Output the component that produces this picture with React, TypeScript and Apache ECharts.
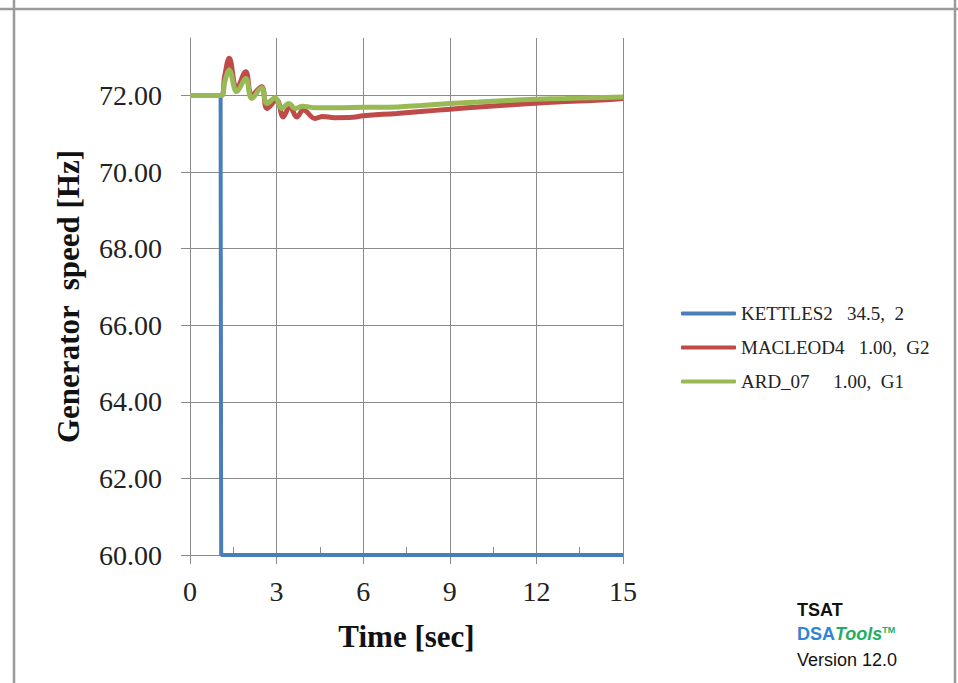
import React, { useEffect, useRef } from "react";
import * as echarts from "echarts";

const seriesNames = ["KETTLES2   34.5,  2", "MACLEOD4   1.00,  G2", "ARD_07     1.00,  G1"];
const seriesColors = ["#4a7ebb", "#be4b48", "#98b954"];

const kettlesTime = [0, 1.06, 1.08, 15];
const kettlesSpeed = [72, 72, 60, 60];

const macleodTime = [0, 1.08, 1.2, 1.36, 1.62, 1.93, 2.14, 2.48, 2.67, 3.0, 3.23, 3.46, 3.7, 3.93, 4.33, 4.6, 5.0, 5.65, 6.0, 7.16, 8.0, 9.0, 10.0, 11.0, 12.07, 13.0, 14.43, 15];
const macleodSpeed = [72, 72, 72.5, 72.97, 72.18, 72.62, 72.01, 72.23, 71.66, 71.88, 71.44, 71.71, 71.44, 71.62, 71.4, 71.45, 71.42, 71.43, 71.47, 71.53, 71.58, 71.64, 71.7, 71.75, 71.8, 71.84, 71.89, 71.92];

const ardTime = [0, 1.08, 1.2, 1.36, 1.62, 1.93, 2.14, 2.48, 2.67, 2.95, 3.18, 3.42, 3.65, 3.9, 4.3, 5, 6, 7.2, 8, 9, 10, 11, 12, 13, 14, 15];
const ardSpeed = [72, 72, 72.35, 72.66, 72.1, 72.44, 71.92, 72.2, 71.79, 71.94, 71.66, 71.79, 71.66, 71.72, 71.68, 71.68, 71.69, 71.7, 71.74, 71.79, 71.83, 71.87, 71.9, 71.92, 71.94, 71.96];

const xTicks = { min: 0, max: 15, interval: 3 };
const yTicks = { min: 60, max: 73.5, interval: 2 };

const pair = (t: number[], v: number[]) => t.map((x, i) => [x, v[i]]);

const GRID = "#8a8a8a";
const SERIF = "'Liberation Serif', 'Times New Roman', serif";
const SANS = "'Liberation Sans', Arial, sans-serif";

export default function App() {
  const ref = useRef<HTMLDivElement>(null);
  useEffect(() => {
    if (!ref.current) return;
    const chart = echarts.init(ref.current, undefined, { renderer: "svg" });
    chart.setOption({
      animation: false,
      backgroundColor: "#ffffff",
      grid: { left: 190, right: 335, top: 38, bottom: 128, containLabel: false },
      legend: {
        orient: "vertical",
        left: 676,
        top: 299,
        icon: "roundRect",
        itemWidth: 55,
        itemHeight: 4,
        itemGap: 15,
        textStyle: { fontFamily: SERIF, fontSize: 19, color: "#222" },
        data: seriesNames,
      },
      xAxis: [
        {
          type: "value",
          min: xTicks.min,
          max: xTicks.max,
          interval: xTicks.interval,
          name: "Time [sec]",
          nameLocation: "middle",
          nameGap: 66,
          nameTextStyle: { fontFamily: SERIF, fontSize: 31, fontWeight: "bold", color: "#111" },
          axisLine: { show: true, lineStyle: { color: GRID, width: 1 } },
          axisTick: { show: true, length: 9, lineStyle: { color: GRID } },
          axisLabel: { fontFamily: SERIF, fontSize: 28, color: "#222", margin: 22 },
          splitLine: { show: true, lineStyle: { color: GRID, width: 1 } },
        },
        {
          type: "value",
          min: xTicks.min,
          max: xTicks.max,
          interval: xTicks.interval,
          position: "bottom",
          axisLine: { show: false },
          axisTick: { show: false, inside: true },
          axisLabel: { show: false },
          splitLine: { show: false },
          minorTick: { show: true, splitNumber: 2, length: 8, lineStyle: { color: GRID, width: 1 } },
        },
      ],
      yAxis: {
        type: "value",
        min: yTicks.min,
        max: yTicks.max,
        interval: yTicks.interval,
        name: "Generator  speed [Hz]",
        nameLocation: "middle",
        nameGap: 106,
        nameTextStyle: { fontFamily: SERIF, fontSize: 31, fontWeight: "bold", color: "#111" },
        axisLine: { show: true, lineStyle: { color: GRID, width: 1 } },
        axisTick: { show: true, length: 9, lineStyle: { color: GRID } },
        axisLabel: {
          fontFamily: SERIF,
          fontSize: 28,
          color: "#222",
          margin: 28,
          showMaxLabel: false,
          formatter: (v: number) => v.toFixed(2),
        },
        splitLine: { show: true, showMaxLine: false, lineStyle: { color: GRID, width: 1 } },
      },
      series: [
        { name: seriesNames[0], data: pair(kettlesTime, kettlesSpeed), width: 4 },
        { name: seriesNames[1], data: pair(macleodTime, macleodSpeed), width: 5 },
        { name: seriesNames[2], data: pair(ardTime, ardSpeed), width: 5 },
      ].map((s, i) => ({
        type: "line",
        name: s.name,
        data: s.data,
        xAxisIndex: 0,
        showSymbol: false,
        symbol: "none",
        smooth: i === 0 ? false : 0.4,
        color: seriesColors[i],
        lineStyle: { color: seriesColors[i], width: s.width },
        z: 2 + i,
      })),
      graphic: [
        { type: "line", shape: { x1: 0, y1: 9, x2: 958, y2: 9 }, style: { stroke: "#9a9a9a", lineWidth: 2.5 } },
        { type: "line", shape: { x1: 14, y1: 0, x2: 14, y2: 683 }, style: { stroke: "#9a9a9a", lineWidth: 2.5 } },
        { type: "line", shape: { x1: 955, y1: 0, x2: 955, y2: 683 }, style: { stroke: "#9a9a9a", lineWidth: 2.5 } },
        {
          type: "text",
          left: 797,
          top: 601,
          style: { text: "TSAT", fontFamily: SANS, fontSize: 18, fontWeight: "bold", fill: "#111" },
        },
        {
          type: "text",
          left: 797,
          top: 625,
          style: {
            text: "{a|DSA}{b|Tools}{c|TM}",
            rich: {
              a: { fontFamily: SANS, fontSize: 18, fontWeight: "bold", fill: "#2f84d6" },
              b: { fontFamily: SANS, fontSize: 18, fontWeight: "bold", fontStyle: "italic", fill: "#1fae63" },
              c: { fontFamily: SANS, fontSize: 9, fontWeight: "bold", fill: "#1fae63", verticalAlign: "top", padding: [0, 0, 8, 0] },
            },
          },
        },
        {
          type: "text",
          left: 797,
          top: 651,
          style: { text: "Version 12.0", fontFamily: SANS, fontSize: 18, fill: "#111" },
        },
      ],
    });
    return () => chart.dispose();
  }, []);
  return (
    <div
      ref={ref}
      style={{ position: "fixed", left: 0, top: 0, width: 958, height: 683, background: "#fff" }}
    />
  );
}
